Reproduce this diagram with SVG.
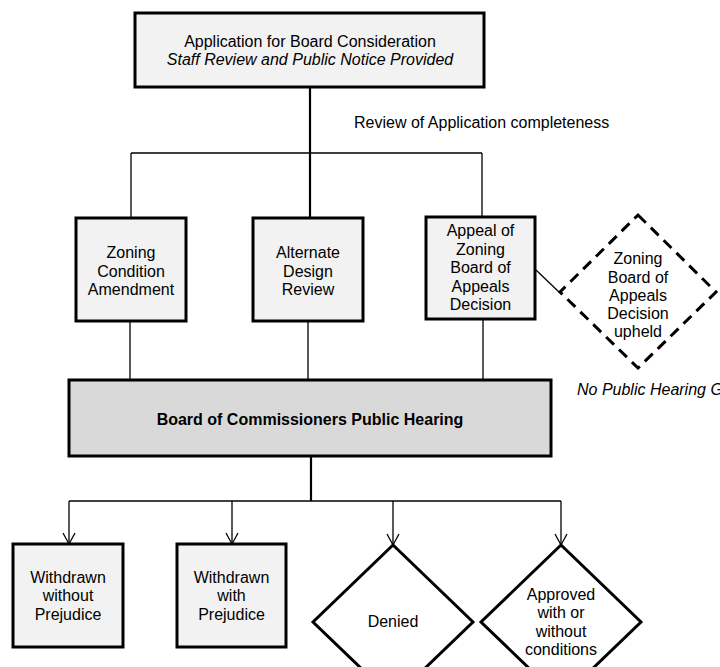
<svg xmlns="http://www.w3.org/2000/svg" width="720" height="667" viewBox="0 0 720 667">
<style>
.box{fill:#f2f2f2;stroke:#000;stroke-width:3}
.hear{fill:#d9d9d9;stroke:#000;stroke-width:3}
.dia{fill:#fff;stroke:#000;stroke-width:3}
.dash{fill:#fff;stroke:#000;stroke-width:3;stroke-dasharray:11 7}
.ln{fill:none;stroke:#000;stroke-width:1.3}
.thick{stroke-width:2.2}
text{font-family:"Liberation Sans",Arial,sans-serif;font-size:16px;fill:#000;text-anchor:middle}
.it{font-style:italic}
.st{text-anchor:start}
.b{font-weight:bold}
</style>
<defs>
<marker id="arr" markerWidth="14" markerHeight="14" refX="12" refY="7" orient="auto" markerUnits="userSpaceOnUse">
<path d="M1,1 L12,7 L1,13" fill="none" stroke="#000" stroke-width="1.3"/>
</marker>
</defs>
<g id="connectors">
<path class="ln thick" d="M310,87 V218"/>
<path class="ln" d="M131,153 H482 M131,153 V218 M482,153 V217"/>
<path class="ln" d="M130,321 V380 M308,321 V380 M483,319 V380"/>
<path class="ln" d="M536,270 L560,293"/>
<path class="ln thick" d="M311,457 V501"/>
<path class="ln" d="M69,501 H561"/>
<path class="ln" d="M69,501 V544" marker-end="url(#arr)"/>
<path class="ln" d="M232,501 V544" marker-end="url(#arr)"/>
<path class="ln" d="M393,501 V545" marker-end="url(#arr)"/>
<path class="ln" d="M561,501 V545" marker-end="url(#arr)"/>
</g>
<text class="st" x="354" y="128">Review of Application completeness</text>
<g id="application">
<rect class="box" x="135" y="13" width="349" height="74"/>
<text x="310" y="47">Application for Board Consideration</text>
<text class="it" x="310" y="65">Staff Review and Public Notice Provided</text>
</g>
<g id="zoning-condition">
<rect class="box" x="76" y="218" width="110" height="103"/>
<text x="131" y="258">Zoning</text>
<text x="131" y="277">Condition</text>
<text x="131" y="295">Amendment</text>
</g>
<g id="alternate-design">
<rect class="box" x="253" y="218" width="110" height="103"/>
<text x="308" y="258">Alternate</text>
<text x="308" y="277">Design</text>
<text x="308" y="295">Review</text>
</g>
<g id="appeal">
<rect class="box" x="426" y="217" width="109" height="102"/>
<text x="480.5" y="236">Appeal of</text>
<text x="480.5" y="255">Zoning</text>
<text x="480.5" y="273">Board of</text>
<text x="480.5" y="292">Appeals</text>
<text x="480.5" y="310">Decision</text>
</g>
<g id="upheld">
<polygon class="dash" points="638,215 716,292 638,368 560,292"/>
<text x="638" y="264">Zoning</text>
<text x="638" y="283">Board of</text>
<text x="638" y="301">Appeals</text>
<text x="638" y="319">Decision</text>
<text x="638" y="337">upheld</text>
</g>
<text class="it st" x="577" y="395">No Public Hearing Granted</text>
<g id="hearing">
<rect class="hear" x="69" y="380" width="482" height="76"/>
<text class="b" x="310" y="425">Board of Commissioners Public Hearing</text>
</g>
<g id="withdrawn-without">
<rect class="box" x="13" y="544" width="110" height="103"/>
<text x="68" y="583">Withdrawn</text>
<text x="68" y="601">without</text>
<text x="68" y="620">Prejudice</text>
</g>
<g id="withdrawn-with">
<rect class="box" x="177" y="544" width="109" height="103"/>
<text x="231.5" y="583">Withdrawn</text>
<text x="231.5" y="601">with</text>
<text x="231.5" y="620">Prejudice</text>
</g>
<g id="denied">
<polygon class="dia" points="393,545 473,622 393,699 313,622"/>
<text x="393" y="627">Denied</text>
</g>
<g id="approved">
<polygon class="dia" points="561,545 641,622 561,699 481,622"/>
<text x="561" y="600">Approved</text>
<text x="561" y="618">with or</text>
<text x="561" y="637">without</text>
<text x="561" y="655">conditions</text>
</g>
</svg>
